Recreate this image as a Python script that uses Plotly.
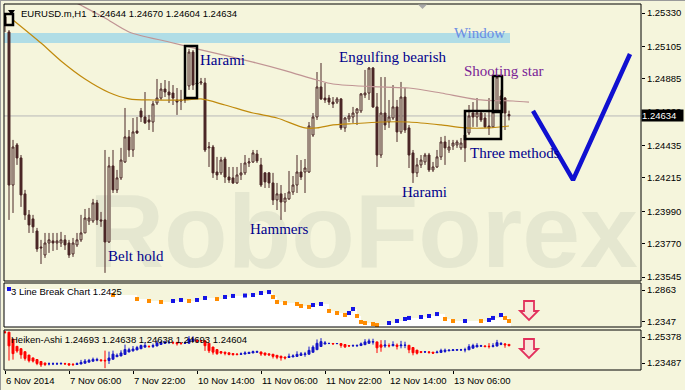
import plotly.graph_objects as go

# ---------------- data ----------------
x_tick_idx = [0, 16, 32, 48, 64, 80, 96, 112]
x_tick_text = ["6 Nov 2014", "7 Nov 06:00", "7 Nov 22:00", "10 Nov 14:00",
               "11 Nov 06:00", "11 Nov 22:00", "12 Nov 14:00", "13 Nov 06:00"]

opens = [1.25256, 1.25202, 1.24167, 1.24438, 1.24350, 1.24107, 1.23965, 1.23938, 1.23856, 1.23748,
         1.23694, 1.23775, 1.23789, 1.23775, 1.23775, 1.23796, 1.23775, 1.23701, 1.23762, 1.23796,
         1.23843, 1.23924, 1.23924, 1.24046, 1.23931, 1.23931, 1.23782, 1.24296, 1.24134, 1.24215,
         1.24323, 1.24492, 1.24404, 1.24532, 1.24668, 1.24627, 1.24607, 1.24593, 1.24722, 1.24755,
         1.24816, 1.24796, 1.24789, 1.24742, 1.24735, 1.24749, 1.24837, 1.25066, 1.24857, 1.24857,
         1.24857, 1.24418, 1.24424, 1.24255, 1.24249, 1.24343, 1.24221, 1.24215, 1.24181, 1.24235,
         1.24249, 1.24316, 1.24323, 1.24377, 1.24303, 1.24249, 1.24249, 1.24181, 1.24066, 1.24107,
         1.24052, 1.24073, 1.24120, 1.24167, 1.24255, 1.24255, 1.24255, 1.24505, 1.24627, 1.24830,
         1.24755, 1.24755, 1.24728, 1.24728, 1.24749, 1.24553, 1.24614, 1.24627, 1.24654, 1.24668,
         1.24776, 1.24789, 1.24958, 1.24695, 1.24370, 1.24654, 1.24593, 1.24620, 1.24695, 1.24526,
         1.24762, 1.24553, 1.24384, 1.24249, 1.24303, 1.24323, 1.24370, 1.24269, 1.24289, 1.24357,
         1.24458, 1.24404, 1.24431, 1.24438, 1.24418, 1.24505, 1.24519, 1.24654, 1.24627, 1.24654,
         1.24620, 1.24566, 1.24560, 1.24661, 1.24769, 1.24755, 1.24644]
highs = [1.25323, 1.25215, 1.24472, 1.24451, 1.24370, 1.24134, 1.23998, 1.23965, 1.23877, 1.23796,
         1.23843, 1.23843, 1.23843, 1.23843, 1.23850, 1.23829, 1.23796, 1.23809, 1.23843, 1.23965,
         1.24005, 1.24012, 1.24073, 1.24066, 1.23985, 1.24404, 1.24357, 1.24404, 1.24269, 1.24418,
         1.24688, 1.24539, 1.24620, 1.24627, 1.24688, 1.24796, 1.24641, 1.24735, 1.24884, 1.24857,
         1.24877, 1.24870, 1.24843, 1.24823, 1.24810, 1.24823, 1.25087, 1.25080, 1.24877, 1.24891,
         1.24891, 1.24458, 1.24438, 1.24357, 1.24357, 1.24357, 1.24289, 1.24289, 1.24289, 1.24316,
         1.24370, 1.24350, 1.24404, 1.24404, 1.24350, 1.24255, 1.24255, 1.24249, 1.24181, 1.24167,
         1.24113, 1.24262, 1.24228, 1.24370, 1.24336, 1.24343, 1.24593, 1.24654, 1.24931, 1.24992,
         1.24857, 1.24776, 1.24762, 1.24762, 1.24755, 1.24627, 1.24654, 1.24695, 1.24688, 1.24789,
         1.24945, 1.24965, 1.24965, 1.24789, 1.24897, 1.24897, 1.24742, 1.24843, 1.24742, 1.24864,
         1.24823, 1.24573, 1.24404, 1.24350, 1.24370, 1.24384, 1.24384, 1.24323, 1.24404, 1.24492,
         1.24499, 1.24472, 1.24472, 1.24472, 1.24485, 1.24539, 1.24708, 1.24728, 1.24755, 1.24674,
         1.24654, 1.24755, 1.24755, 1.24911, 1.24810, 1.24762, 1.24670]
lows = [1.25202, 1.23931, 1.23978, 1.24303, 1.24019, 1.23931, 1.23843, 1.23843, 1.23715, 1.23633,
        1.23674, 1.23708, 1.23721, 1.23728, 1.23748, 1.23728, 1.23674, 1.23681, 1.23748, 1.23782,
        1.23843, 1.23897, 1.23911, 1.23897, 1.23884, 1.23573, 1.23775, 1.24113, 1.24113, 1.24201,
        1.24316, 1.24357, 1.24357, 1.24512, 1.24593, 1.24580, 1.24539, 1.24526, 1.24708, 1.24742,
        1.24762, 1.24722, 1.24708, 1.24641, 1.24674, 1.24722, 1.24810, 1.24810, 1.24769, 1.24843,
        1.24390, 1.24289, 1.24215, 1.24201, 1.24235, 1.24181, 1.24181, 1.24174, 1.24174, 1.24201,
        1.24235, 1.24289, 1.24316, 1.24316, 1.24154, 1.24147, 1.24147, 1.24032, 1.23998, 1.23931,
        1.23985, 1.24066, 1.24100, 1.24113, 1.24201, 1.24113, 1.24249, 1.24492, 1.24607, 1.24742,
        1.24722, 1.24708, 1.24688, 1.24715, 1.24539, 1.24526, 1.24593, 1.24587, 1.24573, 1.24654,
        1.24755, 1.24742, 1.24688, 1.24289, 1.24350, 1.24539, 1.24553, 1.24607, 1.24458, 1.24512,
        1.24519, 1.24282, 1.24181, 1.24221, 1.24282, 1.24303, 1.24255, 1.24255, 1.24282, 1.24336,
        1.24303, 1.24384, 1.24404, 1.24418, 1.24404, 1.24323, 1.24505, 1.24560, 1.24560, 1.24593,
        1.24553, 1.24505, 1.24553, 1.24654, 1.24661, 1.24539, 1.24604]
closes = [1.25303, 1.24167, 1.24424, 1.24350, 1.24100, 1.23965, 1.23897, 1.23884, 1.23735, 1.23742,
          1.23775, 1.23796, 1.23775, 1.23789, 1.23796, 1.23762, 1.23694, 1.23775, 1.23796, 1.23843,
          1.23944, 1.23944, 1.24046, 1.23931, 1.23924, 1.23782, 1.24296, 1.24134, 1.24215, 1.24336,
          1.24492, 1.24404, 1.24526, 1.24519, 1.24627, 1.24587, 1.24593, 1.24715, 1.24755, 1.24816,
          1.24796, 1.24776, 1.24755, 1.24728, 1.24742, 1.24742, 1.25066, 1.24843, 1.24850, 1.24864,
          1.24404, 1.24424, 1.24249, 1.24235, 1.24336, 1.24221, 1.24201, 1.24181, 1.24235, 1.24249,
          1.24316, 1.24323, 1.24384, 1.24330, 1.24167, 1.24188, 1.24181, 1.24066, 1.24107, 1.24052,
          1.24079, 1.24120, 1.24167, 1.24255, 1.24221, 1.24282, 1.24566, 1.24627, 1.24830, 1.24749,
          1.24742, 1.24728, 1.24715, 1.24749, 1.24553, 1.24620, 1.24634, 1.24654, 1.24681, 1.24783,
          1.24789, 1.24958, 1.24695, 1.24370, 1.24654, 1.24573, 1.24627, 1.24695, 1.24526, 1.24762,
          1.24539, 1.24370, 1.24249, 1.24303, 1.24336, 1.24370, 1.24269, 1.24289, 1.24357, 1.24458,
          1.24418, 1.24424, 1.24451, 1.24458, 1.24451, 1.24418, 1.24634, 1.24627, 1.24654, 1.24607,
          1.24560, 1.24553, 1.24661, 1.24897, 1.24715, 1.24654, 1.24634]
bar_idx = list(range(len(opens)))

ma_gold_idx = [2, 9, 14, 20, 26, 31, 37, 45, 49, 55, 62, 68, 75, 78, 82, 86, 94, 101, 109, 115, 121, 126]
ma_gold = [1.25283, 1.25127, 1.25006, 1.24884, 1.24793, 1.24750, 1.24742, 1.24742, 1.24749, 1.24708,
           1.24654, 1.24620, 1.24553, 1.24553, 1.24573, 1.24580, 1.24593, 1.24593, 1.24573, 1.24553,
           1.24553, 1.24566]
ma_pink_idx = [12, 19, 25, 31, 41, 49, 62, 70, 78, 82, 94, 101, 109, 118, 127, 131]
ma_pink = [1.25480, 1.25382, 1.25296, 1.25202, 1.25134, 1.25081, 1.24998, 1.24941, 1.24877, 1.24850,
           1.24830, 1.24823, 1.24789, 1.24745, 1.24735, 1.24728]

forecast_idx = [132, 142, 156.25]
forecast_price = [1.24668, 1.24201, 1.25053]

last_price = 1.24634

lb_idx = [1, 27, 33, 36, 39, 42, 44, 46, 48, 50, 53, 55, 57, 60, 62, 64, 66, 67, 68, 70,
          73, 74, 76, 77, 79, 81, 83, 85, 86, 87, 88, 89, 90, 92, 93, 96, 98, 100, 101, 104,
          106, 108, 110, 112, 115, 119, 121, 122, 124, 125, 126]
lb_val = [1.2793, 1.2722, 1.2675, 1.2652, 1.2640, 1.2652, 1.2664, 1.2652, 1.2664, 1.2687,
          1.2675, 1.2699, 1.2711, 1.2716, 1.2722, 1.2746, 1.2757, 1.2699, 1.2640, 1.2628,
          1.2617, 1.2593, 1.2582, 1.2605, 1.2617, 1.2535, 1.2511, 1.2488, 1.2511, 1.2558,
          1.2476, 1.2406, 1.2394, 1.2382, 1.2370, 1.2394, 1.2417, 1.2441, 1.2453, 1.2464,
          1.2476, 1.2499, 1.2441, 1.2417, 1.2417, 1.2417, 1.2429, 1.2453, 1.2488, 1.2453,
          1.2417]
lb_dir = [1, -1, -1, -1, -1, 1, 1, -1, 1, 1, -1, 1, 1, 1, 1, 1, 1, -1, -1, -1,
          -1, -1, -1, 1, 1, -1, -1, -1, 1, 1, -1, -1, -1, -1, -1, 1, 1, 1, 1, 1,
          1, 1, -1, -1, 1, -1, 1, 1, 1, -1, -1]

patterns = [("Harami", 48.25, 1.25012), ("Engulfing bearish", 83.0, 1.25033),
            ("Three methods", 115.75, 1.24384), ("Harami", 98.75, 1.24120),
            ("Hammers", 60.75, 1.23870), ("Belt hold", 25.25, 1.23687)]
window_label = ("Window", 111.75, 1.25195)
shooting_label = ("Shooting star", 114.25, 1.24938)

main_ticks = [1.25330, 1.25105, 1.24885, 1.24660, 1.24435, 1.24215, 1.23990, 1.23770, 1.23545]
lb_scale = [1.2347, 1.2863]      # indicator window min / max
ha_scale = [1.23487, 1.25378]    # indicator window min / max

# ---------------- derived: Heiken-Ashi ----------------
ha_close = [(o + h + l + c) / 4 for o, h, l, c in zip(opens, highs, lows, closes)]
ha_open = [(opens[0] + closes[0]) / 2]
for i in range(1, len(opens)):
    ha_open.append((ha_open[i - 1] + ha_close[i - 1]) / 2)
ha_high = [max(h, a, b) for h, a, b in zip(highs, ha_open, ha_close)]
ha_low = [min(l, a, b) for l, a, b in zip(lows, ha_open, ha_close)]

# ---------------- layout geometry ----------------
W, H = 685, 390
ML, MR, MT, MB = 4, 44, 4, 20
PW = W - ML - MR
PH = H - MT - MB


def fx(px):
    return (px - ML) / PW


def fy(py):
    return (H - MB - py) / PH


BG = "#F5F5DC"
BROWN = "#4A2626"
SERIF = "Liberation Serif"
SANS = "Liberation Sans"

fig = go.Figure()

fig.add_trace(go.Candlestick(
    x=bar_idx, open=opens, high=highs, low=lows, close=closes,
    increasing=dict(line=dict(color=BROWN, width=1), fillcolor=BG),
    decreasing=dict(line=dict(color=BROWN, width=1), fillcolor=BROWN),
    whiskerwidth=0, hoverinfo="skip", xaxis="x", yaxis="y"))

fig.add_trace(go.Scatter(x=ma_gold_idx, y=ma_gold, mode="lines",
                         line=dict(color="#C08A0C", width=1.2, shape="spline", smoothing=0.8),
                         hoverinfo="skip", yaxis="y"))
fig.add_trace(go.Scatter(x=ma_pink_idx, y=ma_pink, mode="lines",
                         line=dict(color="#C09494", width=1.2, shape="spline", smoothing=0.8),
                         hoverinfo="skip", yaxis="y"))
fig.add_trace(go.Scatter(x=forecast_idx, y=forecast_price, mode="lines",
                         line=dict(color="#1010D0", width=4.5),
                         hoverinfo="skip", yaxis="y"))

# 3 Line Break panel
fill_x = [bar_idx[0] - 0.25] + lb_idx + [bar_idx[-1] + 0.5]
fill_y = [lb_val[0]] + lb_val + [lb_val[-1]]
fig.add_trace(go.Scatter(x=fill_x, y=fill_y, mode="lines", line=dict(width=0, color="white", shape="hv"),
                         fill="tozeroy", fillcolor="white", hoverinfo="skip", yaxis="y2"))
fig.add_trace(go.Scatter(x=lb_idx, y=lb_val, mode="markers",
                         marker=dict(symbol="square", size=4,
                                     color=["#1414E6" if d > 0 else "#FF8C00" for d in lb_dir],
                                     line=dict(width=0)),
                         hoverinfo="skip", yaxis="y2"))

# Heiken-Ashi panel
fig.add_trace(go.Candlestick(
    x=bar_idx, open=ha_open, high=ha_high, low=ha_low, close=ha_close,
    increasing=dict(line=dict(color="#1414C8", width=1), fillcolor="#1414C8"),
    decreasing=dict(line=dict(color="#FF0000", width=1), fillcolor="#FF0000"),
    whiskerwidth=0, hoverinfo="skip", xaxis="x", yaxis="y3"))

yfont = dict(family=SANS, size=9.5, color="black")
common_y = dict(side="right", anchor="x", showgrid=False, zeroline=False, ticks="outside",
                ticklen=3, tickcolor="black", tickfont=yfont, showline=False, fixedrange=True)


def inset_ticks(lo, hi, px_top, px_bot, inset_top, inset_bot):
    # MT4 prints the window max/min slightly inside the sub-window
    span = hi - lo
    h = px_bot - px_top
    return [hi - span * inset_top / h, lo + span * inset_bot / h]


lb_tv = inset_ticks(lb_scale[0], lb_scale[1], 283, 327, 7, 5.5)
ha_tv = inset_ticks(ha_scale[0], ha_scale[1], 330, 370, 7, 7)

fig.update_layout(
    width=W, height=H, margin=dict(l=ML, r=MR, t=MT, b=MB),
    paper_bgcolor=BG, plot_bgcolor=BG, showlegend=False, hovermode=False,
    xaxis=dict(domain=[0, 1], range=[bar_idx[0] - 0.25, 159], anchor="y3", showgrid=False,
               zeroline=False, ticks="outside", ticklen=3, tickcolor="black",
               tickvals=x_tick_idx, showticklabels=False, rangeslider=dict(visible=False),
               fixedrange=True),
    yaxis=dict(domain=[fy(281), 1], range=[1.23518, 1.25391], tickvals=main_ticks,
               ticktext=[f"{v:.5f}" for v in main_ticks], **common_y),
    yaxis2=dict(domain=[fy(327), fy(283)], range=lb_scale, tickvals=lb_tv,
                ticktext=[f"{lb_scale[1]:.4f}", f"{lb_scale[0]:.4f}"], **common_y),
    yaxis3=dict(domain=[0, fy(330)], range=ha_scale, tickvals=ha_tv,
                ticktext=[f"{ha_scale[1]:.5f}", f"{ha_scale[0]:.5f}"], **common_y),
)

shapes = []
# watermark
shapes.append(dict(type="rect", xref="paper", yref="paper", x0=fx(84), x1=fx(641), y0=fy(281), y1=fy(150),
                   line=dict(width=0), fillcolor="rgba(0,0,0,0)", layer="below",
                   label=dict(text="<b>RoboForex</b>", textposition="bottom left", padding=2,
                              font=dict(family="Liberation Sans", size=104,
                                        color="rgba(205,210,190,0.40)"))))
# window band
shapes.append(dict(type="rect", xref="x", yref="y", x0=bar_idx[0] - 0.25, x1=126.25, y0=1.25127, y1=1.25195,
                   line=dict(width=0), fillcolor="#B0DDE6", layer="below"))
# current price line
shapes.append(dict(type="line", xref="paper", yref="y", x0=0, x1=1, y0=last_price, y1=last_price,
                   line=dict(color="#B8B8B8", width=1), layer="below"))
# pattern boxes
for (a, b, lo, hi) in [(0, 2, 1.25249, 1.25323), (45, 48, 1.24755, 1.25107),
                       (115, 124, 1.24478, 1.24668), (122, 124.25, 1.24661, 1.24904)]:
    shapes.append(dict(type="rect", xref="x", yref="y", x0=a, x1=b, y0=lo, y1=hi,
                       line=dict(color="black", width=2.5)))
# panel frames
for (y0, y1) in [(fy(281), 1), (fy(327), fy(283)), (0, fy(330))]:
    shapes.append(dict(type="rect", xref="paper", yref="paper", x0=0, x1=1, y0=y0, y1=y1,
                       line=dict(color="black", width=1)))
# outer window border lines
shapes.append(dict(type="line", xref="paper", yref="paper", x0=fx(0), x1=fx(685), y0=fy(0.5), y1=fy(0.5),
                   line=dict(color="#9A9A9A", width=1)))
shapes.append(dict(type="line", xref="paper", yref="paper", x0=fx(0.5), x1=fx(0.5), y0=fy(0), y1=fy(390),
                   line=dict(color="#9A9A9A", width=1)))


def tri(xl, xr, yt, yb):
    return (f"M {fx(xl)},{fy(yt)} L {fx(xr)},{fy(yt)} L {fx((xl + xr) / 2)},{fy(yb)} Z")


shapes.append(dict(type="path", xref="paper", yref="paper", path=tri(8, 15, 10, 15),
                   fillcolor="black", line=dict(width=0)))
shapes.append(dict(type="path", xref="paper", yref="paper", path=tri(418, 427, 4.5, 9),
                   fillcolor="#A8A8A8", line=dict(width=0)))


def down_arrow(cx, top):
    pts = [(cx - 5, top), (cx + 5, top), (cx + 5, top + 10), (cx + 9, top + 10), (cx, top + 19),
           (cx - 9, top + 10), (cx - 5, top + 10)]
    return "M " + " L ".join(f"{fx(a)},{fy(b)}" for a, b in pts) + " Z"


for top in (301, 339):
    shapes.append(dict(type="path", xref="paper", yref="paper", path=down_arrow(529, top),
                       fillcolor="rgba(255,200,215,0.35)", line=dict(color="#E2305C", width=1.8)))

fig.update_layout(shapes=shapes)

ann = []
for text, xi, yv in patterns:
    ann.append(dict(text=text, x=xi, y=yv, xref="x", yref="y", xanchor="left", yanchor="middle",
                    showarrow=False, font=dict(family=SERIF, size=15, color="#00008C")))
ann.append(dict(text=window_label[0], x=window_label[1], y=window_label[2], xref="x", yref="y",
                xanchor="left", yanchor="middle", showarrow=False,
                font=dict(family=SERIF, size=15, color="#6A8CE4")))
ann.append(dict(text=shooting_label[0], x=shooting_label[1], y=shooting_label[2], xref="x", yref="y",
                xanchor="left", yanchor="middle", showarrow=False,
                font=dict(family=SERIF, size=15, color="#7A1E96")))
ann.append(dict(text="EURUSD.m,H1  1.24644 1.24670 1.24604 1.24634", x=fx(19), y=fy(13),
                xref="paper", yref="paper", xanchor="left", yanchor="middle", showarrow=False,
                font=dict(family=SANS, size=9.5, color="black")))
ann.append(dict(text="3 Line Break Chart 1.2425", x=fx(9), y=fy(291), xref="paper", yref="paper",
                xanchor="left", yanchor="middle", showarrow=False,
                font=dict(family=SANS, size=9.5, color="black")))
ann.append(dict(text="Heiken-Ashi 1.24693 1.24638 1.24638 1.24693 1.24604", x=fx(9), y=fy(339),
                xref="paper", yref="paper", xanchor="left", yanchor="middle", showarrow=False,
                font=dict(family=SANS, size=9.5, color="black")))
for xi, t in zip(x_tick_idx, x_tick_text):
    ann.append(dict(text=t, x=xi, y=0, xref="x", yref="paper", xanchor="left", yanchor="top",
                    yshift=-3, xshift=-1, showarrow=False, font=dict(family=SANS, size=9.5, color="black")))
ann.append(dict(text=f"{last_price:.5f}", x=1, y=last_price, xref="paper", yref="y", xanchor="left",
                yanchor="middle", showarrow=False, bgcolor="black", width=41, height=11, align="left",
                borderpad=0, font=dict(family=SANS, size=9.5, color="white")))
fig.update_layout(annotations=ann)

fig.write_html("out.html")
